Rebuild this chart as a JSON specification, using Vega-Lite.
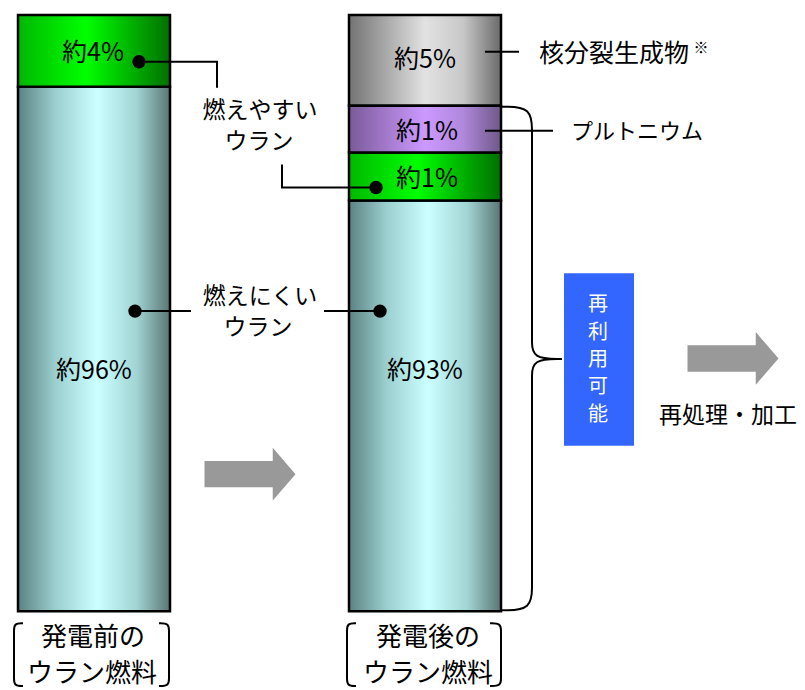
{
  "$schema": "https://vega.github.io/schema/vega-lite/v6.json",
  "width": 805,
  "height": 690,
  "autosize": {"type": "fit", "contains": "padding"},
  "padding": 0,
  "background": "white",
  "config": {"view": {"stroke": null}, "font": "Noto Sans CJK JP", "text": {"font": "Noto Sans CJK JP"}},
  "datasets": {
    "segs": [
      {"bar": "発電前", "part": "燃えやすいウラン", "x0": 18, "x1": 170, "lo": 87.96, "hi": 100},
      {"bar": "発電前", "part": "燃えにくいウラン", "x0": 18, "x1": 170, "lo": 0, "hi": 87.96},
      {"bar": "発電後", "part": "核分裂生成物", "x0": 349, "x1": 501, "lo": 84.78, "hi": 100},
      {"bar": "発電後", "part": "プルトニウム", "x0": 349, "x1": 501, "lo": 76.92, "hi": 84.78},
      {"bar": "発電後", "part": "燃えやすいウラン", "x0": 349, "x1": 501, "lo": 68.9, "hi": 76.92},
      {"bar": "発電後", "part": "燃えにくいウラン", "x0": 349, "x1": 501, "lo": 0, "hi": 68.9}
    ],
    "boxes": [
      {"name": "再利用可能", "x0": 564, "x1": 634, "lo": 27.76, "hi": 56.69}
    ],
    "leaders": [
      {"id": "a", "i": 0, "x": 139, "y": 92.14},
      {"id": "a", "i": 1, "x": 217, "y": 92.14},
      {"id": "a", "i": 2, "x": 217, "y": 87.79},
      {"id": "b", "i": 0, "x": 282, "y": 74.92},
      {"id": "b", "i": 1, "x": 282, "y": 71.07},
      {"id": "b", "i": 2, "x": 376, "y": 71.07},
      {"id": "c", "i": 0, "x": 135, "y": 50.33},
      {"id": "c", "i": 1, "x": 191, "y": 50.33},
      {"id": "d", "i": 0, "x": 324, "y": 50.33},
      {"id": "d", "i": 1, "x": 380, "y": 50.33},
      {"id": "e", "i": 0, "x": 485, "y": 93.81},
      {"id": "e", "i": 1, "x": 519, "y": 93.81},
      {"id": "f", "i": 0, "x": 485, "y": 80.6},
      {"id": "f", "i": 1, "x": 553, "y": 80.6}
    ],
    "curves": [
      {"id": "brace", "i": 0, "x": 502, "y": 84.62},
      {"id": "brace", "i": 1, "x": 502, "y": 84.62},
      {"id": "brace", "i": 2, "x": 502, "y": 84.62},
      {"id": "brace", "i": 3, "x": 532, "y": 84.62},
      {"id": "brace", "i": 4, "x": 532, "y": 79.93},
      {"id": "brace", "i": 5, "x": 532, "y": 79.93},
      {"id": "brace", "i": 6, "x": 532, "y": 79.93},
      {"id": "brace", "i": 7, "x": 532, "y": 45.65},
      {"id": "brace", "i": 8, "x": 532, "y": 45.65},
      {"id": "brace", "i": 9, "x": 532, "y": 45.65},
      {"id": "brace", "i": 10, "x": 532, "y": 42.31},
      {"id": "brace", "i": 11, "x": 562, "y": 42.31},
      {"id": "brace", "i": 12, "x": 562, "y": 42.31},
      {"id": "brace", "i": 13, "x": 562, "y": 42.31},
      {"id": "brace", "i": 14, "x": 532, "y": 42.31},
      {"id": "brace", "i": 15, "x": 532, "y": 38.96},
      {"id": "brace", "i": 16, "x": 532, "y": 38.96},
      {"id": "brace", "i": 17, "x": 532, "y": 38.96},
      {"id": "brace", "i": 18, "x": 532, "y": 4.68},
      {"id": "brace", "i": 19, "x": 532, "y": 4.68},
      {"id": "brace", "i": 20, "x": 532, "y": 4.68},
      {"id": "brace", "i": 21, "x": 532, "y": 0.17},
      {"id": "brace", "i": 22, "x": 502, "y": 0.17},
      {"id": "brace", "i": 23, "x": 502, "y": 0.17},
      {"id": "brace", "i": 24, "x": 502, "y": 0.17},

      {"id": "p1", "i": 0, "x": 23, "y": -2.01},
      {"id": "p1", "i": 1, "x": 23, "y": -2.01},
      {"id": "p1", "i": 2, "x": 23, "y": -2.01},
      {"id": "p1", "i": 3, "x": 14, "y": -2.01},
      {"id": "p1", "i": 4, "x": 14, "y": -3.51},
      {"id": "p1", "i": 5, "x": 14, "y": -3.51},
      {"id": "p1", "i": 6, "x": 14, "y": -3.51},
      {"id": "p1", "i": 7, "x": 14, "y": -11.04},
      {"id": "p1", "i": 8, "x": 14, "y": -11.04},
      {"id": "p1", "i": 9, "x": 14, "y": -11.04},
      {"id": "p1", "i": 10, "x": 14, "y": -12.54},
      {"id": "p1", "i": 11, "x": 23, "y": -12.54},
      {"id": "p1", "i": 12, "x": 23, "y": -12.54},
      {"id": "p1", "i": 13, "x": 23, "y": -12.54},

      {"id": "p2", "i": 0, "x": 159, "y": -2.01},
      {"id": "p2", "i": 1, "x": 159, "y": -2.01},
      {"id": "p2", "i": 2, "x": 159, "y": -2.01},
      {"id": "p2", "i": 3, "x": 169, "y": -2.01},
      {"id": "p2", "i": 4, "x": 169, "y": -3.51},
      {"id": "p2", "i": 5, "x": 169, "y": -3.51},
      {"id": "p2", "i": 6, "x": 169, "y": -3.51},
      {"id": "p2", "i": 7, "x": 169, "y": -11.04},
      {"id": "p2", "i": 8, "x": 169, "y": -11.04},
      {"id": "p2", "i": 9, "x": 169, "y": -11.04},
      {"id": "p2", "i": 10, "x": 169, "y": -12.54},
      {"id": "p2", "i": 11, "x": 159, "y": -12.54},
      {"id": "p2", "i": 12, "x": 159, "y": -12.54},
      {"id": "p2", "i": 13, "x": 159, "y": -12.54},

      {"id": "p3", "i": 0, "x": 356, "y": -2.01},
      {"id": "p3", "i": 1, "x": 356, "y": -2.01},
      {"id": "p3", "i": 2, "x": 356, "y": -2.01},
      {"id": "p3", "i": 3, "x": 347, "y": -2.01},
      {"id": "p3", "i": 4, "x": 347, "y": -3.51},
      {"id": "p3", "i": 5, "x": 347, "y": -3.51},
      {"id": "p3", "i": 6, "x": 347, "y": -3.51},
      {"id": "p3", "i": 7, "x": 347, "y": -11.04},
      {"id": "p3", "i": 8, "x": 347, "y": -11.04},
      {"id": "p3", "i": 9, "x": 347, "y": -11.04},
      {"id": "p3", "i": 10, "x": 347, "y": -12.54},
      {"id": "p3", "i": 11, "x": 356, "y": -12.54},
      {"id": "p3", "i": 12, "x": 356, "y": -12.54},
      {"id": "p3", "i": 13, "x": 356, "y": -12.54},

      {"id": "p4", "i": 0, "x": 490, "y": -2.01},
      {"id": "p4", "i": 1, "x": 490, "y": -2.01},
      {"id": "p4", "i": 2, "x": 490, "y": -2.01},
      {"id": "p4", "i": 3, "x": 501, "y": -2.01},
      {"id": "p4", "i": 4, "x": 501, "y": -3.51},
      {"id": "p4", "i": 5, "x": 501, "y": -3.51},
      {"id": "p4", "i": 6, "x": 501, "y": -3.51},
      {"id": "p4", "i": 7, "x": 501, "y": -11.04},
      {"id": "p4", "i": 8, "x": 501, "y": -11.04},
      {"id": "p4", "i": 9, "x": 501, "y": -11.04},
      {"id": "p4", "i": 10, "x": 501, "y": -12.54},
      {"id": "p4", "i": 11, "x": 490, "y": -12.54},
      {"id": "p4", "i": 12, "x": 490, "y": -12.54},
      {"id": "p4", "i": 13, "x": 490, "y": -12.54}
    ],
    "dots": [
      {"x": 139, "y": 92.14},
      {"x": 376, "y": 71.07},
      {"x": 135, "y": 50.33},
      {"x": 380, "y": 50.33}
    ],
    "arrows": [
      {"name": "発電", "x": 250, "y": 22.99},
      {"name": "再処理", "x": 733, "y": 42.39}
    ],
    "labels": [
      {"kind": "bar", "text": "約4%", "x": 93, "y": 93.65},
      {"kind": "bar", "text": "約96%", "x": 94, "y": 40.22},
      {"kind": "bar", "text": "約5%", "x": 425, "y": 92.47},
      {"kind": "bar", "text": "約1%", "x": 427, "y": 80.43},
      {"kind": "bar", "text": "約1%", "x": 427, "y": 72.41},
      {"kind": "bar", "text": "約93%", "x": 425, "y": 40.22},
      {"kind": "note", "text": "燃えやすい", "x": 260, "y": 83.95},
      {"kind": "note", "text": "ウラン", "x": 259, "y": 78.76},
      {"kind": "note", "text": "燃えにくい", "x": 260, "y": 52.76},
      {"kind": "note", "text": "ウラン", "x": 258, "y": 47.58},
      {"kind": "note", "text": "再処理・加工", "x": 728, "y": 32.78},
      {"kind": "side", "text": "核分裂生成物", "x": 539, "y": 93.48},
      {"kind": "side2", "text": "プルトニウム", "x": 571, "y": 80.43},
      {"kind": "mark", "text": "※", "x": 701, "y": 94.48},
      {"kind": "box", "text": "再", "x": 598, "y": 51.34},
      {"kind": "box", "text": "利", "x": 598, "y": 46.74},
      {"kind": "box", "text": "用", "x": 598, "y": 42.14},
      {"kind": "box", "text": "可", "x": 598, "y": 37.54},
      {"kind": "box", "text": "能", "x": 598, "y": 32.94},
      {"kind": "foot", "text": "発電前の", "x": 93, "y": -4.52},
      {"kind": "foot", "text": "ウラン燃料", "x": 92, "y": -10.54},
      {"kind": "foot", "text": "発電後の", "x": 428, "y": -4.52},
      {"kind": "foot", "text": "ウラン燃料", "x": 428, "y": -10.54}
    ]
  },
  "layer": [
    {
      "data": {"name": "segs"},
      "transform": [{"filter": "datum.part === '燃えにくいウラン'"}],
      "mark": {"type": "rect", "stroke": "#000000", "strokeWidth": 2.5,
        "color": {"gradient": "linear", "x1": 0, "y1": 0, "x2": 1, "y2": 0,
          "stops": [{"offset": 0, "color": "#5c8282"}, {"offset": 0.25, "color": "#9cd0d0"}, {"offset": 0.52, "color": "#ccffff"}, {"offset": 0.78, "color": "#a2d4d4"}, {"offset": 1, "color": "#587674"}]}},
      "encoding": {
        "x": {"field": "x0", "type": "quantitative", "scale": {"domain": [0, 805], "nice": false, "zero": false}, "axis": null},
        "x2": {"field": "x1"},
        "y": {"field": "hi", "type": "quantitative", "scale": {"domain": [-12.876, 102.508], "nice": false, "zero": false}, "axis": null},
        "y2": {"field": "lo"}
      }
    },
    {
      "data": {"name": "segs"},
      "transform": [{"filter": "datum.part === '燃えやすいウラン'"}],
      "mark": {"type": "rect", "stroke": "#000000", "strokeWidth": 2.5,
        "color": {"gradient": "linear", "x1": 0, "y1": 0, "x2": 1, "y2": 0,
          "stops": [{"offset": 0, "color": "#00b800"}, {"offset": 0.45, "color": "#00ff00"}, {"offset": 1, "color": "#007000"}]}},
      "encoding": {
        "x": {"field": "x0", "type": "quantitative", "scale": {"domain": [0, 805], "nice": false, "zero": false}, "axis": null},
        "x2": {"field": "x1"},
        "y": {"field": "hi", "type": "quantitative", "scale": {"domain": [-12.876, 102.508], "nice": false, "zero": false}, "axis": null},
        "y2": {"field": "lo"}
      }
    },
    {
      "data": {"name": "segs"},
      "transform": [{"filter": "datum.part === '核分裂生成物'"}],
      "mark": {"type": "rect", "stroke": "#000000", "strokeWidth": 2.5,
        "color": {"gradient": "linear", "x1": 0, "y1": 0, "x2": 1, "y2": 0,
          "stops": [{"offset": 0, "color": "#737373"}, {"offset": 0.5, "color": "#e2e2e2"}, {"offset": 0.75, "color": "#c8c8c8"}, {"offset": 1, "color": "#6a6a6a"}]}},
      "encoding": {
        "x": {"field": "x0", "type": "quantitative", "scale": {"domain": [0, 805], "nice": false, "zero": false}, "axis": null},
        "x2": {"field": "x1"},
        "y": {"field": "hi", "type": "quantitative", "scale": {"domain": [-12.876, 102.508], "nice": false, "zero": false}, "axis": null},
        "y2": {"field": "lo"}
      }
    },
    {
      "data": {"name": "segs"},
      "transform": [{"filter": "datum.part === 'プルトニウム'"}],
      "mark": {"type": "rect", "stroke": "#000000", "strokeWidth": 2.5,
        "color": {"gradient": "linear", "x1": 0, "y1": 0, "x2": 1, "y2": 0,
          "stops": [{"offset": 0, "color": "#7a5a98"}, {"offset": 0.5, "color": "#cc99ff"}, {"offset": 0.75, "color": "#b088dc"}, {"offset": 1, "color": "#6e5888"}]}},
      "encoding": {
        "x": {"field": "x0", "type": "quantitative", "scale": {"domain": [0, 805], "nice": false, "zero": false}, "axis": null},
        "x2": {"field": "x1"},
        "y": {"field": "hi", "type": "quantitative", "scale": {"domain": [-12.876, 102.508], "nice": false, "zero": false}, "axis": null},
        "y2": {"field": "lo"}
      }
    },
    {
      "data": {"name": "boxes"},
      "mark": {"type": "rect", "color": "#3366ff"},
      "encoding": {
        "x": {"field": "x0", "type": "quantitative", "scale": {"domain": [0, 805], "nice": false, "zero": false}, "axis": null},
        "x2": {"field": "x1"},
        "y": {"field": "hi", "type": "quantitative", "scale": {"domain": [-12.876, 102.508], "nice": false, "zero": false}, "axis": null},
        "y2": {"field": "lo"}
      }
    },
    {
      "data": {"name": "leaders"},
      "mark": {"type": "line", "color": "#000000", "strokeWidth": 2},
      "encoding": {
        "x": {"field": "x", "type": "quantitative", "scale": {"domain": [0, 805], "nice": false, "zero": false}, "axis": null},
        "y": {"field": "y", "type": "quantitative", "scale": {"domain": [-12.876, 102.508], "nice": false, "zero": false}, "axis": null},
        "detail": {"field": "id"},
        "order": {"field": "i", "type": "quantitative"}
      }
    },
    {
      "data": {"name": "curves"},
      "mark": {"type": "line", "color": "#000000", "strokeWidth": 2, "interpolate": "basis"},
      "encoding": {
        "x": {"field": "x", "type": "quantitative", "scale": {"domain": [0, 805], "nice": false, "zero": false}, "axis": null},
        "y": {"field": "y", "type": "quantitative", "scale": {"domain": [-12.876, 102.508], "nice": false, "zero": false}, "axis": null},
        "detail": {"field": "id"},
        "order": {"field": "i", "type": "quantitative"}
      }
    },
    {
      "data": {"name": "dots"},
      "mark": {"type": "point", "shape": "circle", "filled": true, "color": "#000000", "opacity": 1, "size": 180},
      "encoding": {
        "x": {"field": "x", "type": "quantitative", "scale": {"domain": [0, 805], "nice": false, "zero": false}, "axis": null},
        "y": {"field": "y", "type": "quantitative", "scale": {"domain": [-12.876, 102.508], "nice": false, "zero": false}, "axis": null}
      }
    },
    {
      "data": {"name": "arrows"},
      "mark": {"type": "point", "shape": "M-1,-0.29L0.5,-0.29L0.5,-0.58L1,0L0.5,0.58L0.5,0.29L-1,0.29Z", "filled": true, "color": "#999999", "opacity": 1, "strokeWidth": 0, "size": 8281},
      "encoding": {
        "x": {"field": "x", "type": "quantitative", "scale": {"domain": [0, 805], "nice": false, "zero": false}, "axis": null},
        "y": {"field": "y", "type": "quantitative", "scale": {"domain": [-12.876, 102.508], "nice": false, "zero": false}, "axis": null}
      }
    },
    {
      "data": {"name": "labels"},
      "transform": [{"filter": "datum.kind === 'bar'"}],
      "mark": {"type": "text", "fontSize": 25, "color": "#000000", "align": "center", "baseline": "middle"},
      "encoding": {
        "x": {"field": "x", "type": "quantitative", "scale": {"domain": [0, 805], "nice": false, "zero": false}, "axis": null},
        "y": {"field": "y", "type": "quantitative", "scale": {"domain": [-12.876, 102.508], "nice": false, "zero": false}, "axis": null},
        "text": {"field": "text"}
      }
    },
    {
      "data": {"name": "labels"},
      "transform": [{"filter": "datum.kind === 'note'"}],
      "mark": {"type": "text", "fontSize": 23, "color": "#000000", "align": "center", "baseline": "middle"},
      "encoding": {
        "x": {"field": "x", "type": "quantitative", "scale": {"domain": [0, 805], "nice": false, "zero": false}, "axis": null},
        "y": {"field": "y", "type": "quantitative", "scale": {"domain": [-12.876, 102.508], "nice": false, "zero": false}, "axis": null},
        "text": {"field": "text"}
      }
    },
    {
      "data": {"name": "labels"},
      "transform": [{"filter": "datum.kind === 'side'"}],
      "mark": {"type": "text", "fontSize": 25, "color": "#000000", "align": "left", "baseline": "middle"},
      "encoding": {
        "x": {"field": "x", "type": "quantitative", "scale": {"domain": [0, 805], "nice": false, "zero": false}, "axis": null},
        "y": {"field": "y", "type": "quantitative", "scale": {"domain": [-12.876, 102.508], "nice": false, "zero": false}, "axis": null},
        "text": {"field": "text"}
      }
    },
    {
      "data": {"name": "labels"},
      "transform": [{"filter": "datum.kind === 'side2'"}],
      "mark": {"type": "text", "fontSize": 22, "color": "#000000", "align": "left", "baseline": "middle"},
      "encoding": {
        "x": {"field": "x", "type": "quantitative", "scale": {"domain": [0, 805], "nice": false, "zero": false}, "axis": null},
        "y": {"field": "y", "type": "quantitative", "scale": {"domain": [-12.876, 102.508], "nice": false, "zero": false}, "axis": null},
        "text": {"field": "text"}
      }
    },
    {
      "data": {"name": "labels"},
      "transform": [{"filter": "datum.kind === 'mark'"}],
      "mark": {"type": "text", "fontSize": 15, "color": "#000000", "align": "center", "baseline": "middle"},
      "encoding": {
        "x": {"field": "x", "type": "quantitative", "scale": {"domain": [0, 805], "nice": false, "zero": false}, "axis": null},
        "y": {"field": "y", "type": "quantitative", "scale": {"domain": [-12.876, 102.508], "nice": false, "zero": false}, "axis": null},
        "text": {"field": "text"}
      }
    },
    {
      "data": {"name": "labels"},
      "transform": [{"filter": "datum.kind === 'box'"}],
      "mark": {"type": "text", "fontSize": 20, "color": "#ffffff", "align": "center", "baseline": "middle"},
      "encoding": {
        "x": {"field": "x", "type": "quantitative", "scale": {"domain": [0, 805], "nice": false, "zero": false}, "axis": null},
        "y": {"field": "y", "type": "quantitative", "scale": {"domain": [-12.876, 102.508], "nice": false, "zero": false}, "axis": null},
        "text": {"field": "text"}
      }
    },
    {
      "data": {"name": "labels"},
      "transform": [{"filter": "datum.kind === 'foot'"}],
      "mark": {"type": "text", "fontSize": 26, "color": "#000000", "align": "center", "baseline": "middle"},
      "encoding": {
        "x": {"field": "x", "type": "quantitative", "scale": {"domain": [0, 805], "nice": false, "zero": false}, "axis": null},
        "y": {"field": "y", "type": "quantitative", "scale": {"domain": [-12.876, 102.508], "nice": false, "zero": false}, "axis": null},
        "text": {"field": "text"}
      }
    }
  ]
}
